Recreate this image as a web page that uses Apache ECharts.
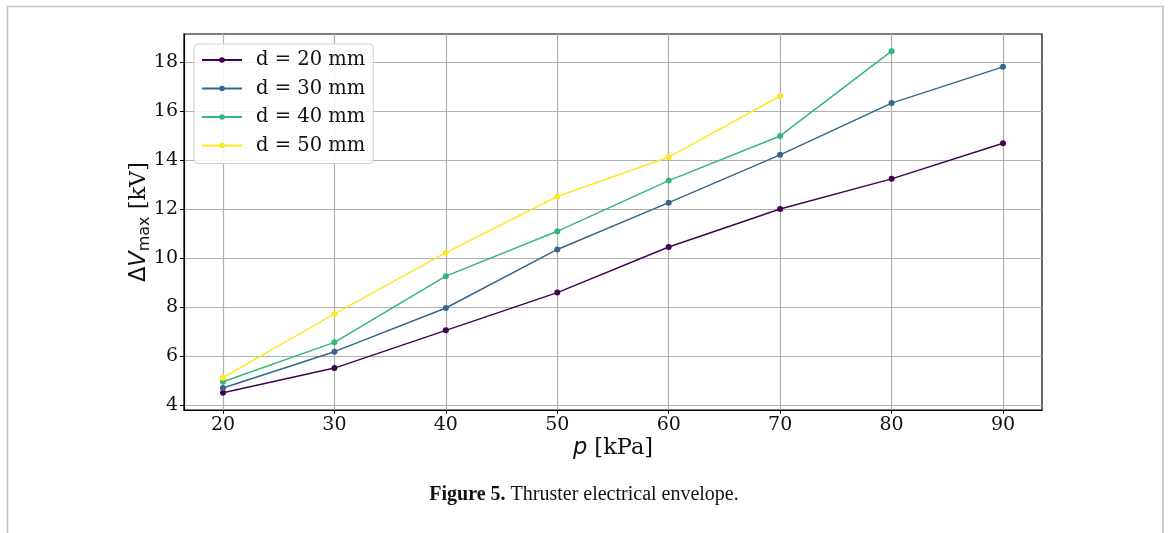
<!DOCTYPE html>
<html>
<head>
<meta charset="utf-8">
<script src="https://cdn.jsdelivr.net/npm/echarts@6/dist/echarts.min.js"></script>
<style>
  html, body { margin: 0; padding: 0; background: #fff; }
  #chart { width: 1168px; height: 533px; }
</style>
</head>
<body>
<div id="chart"></div>
<script>
// pressure p [kPa]
var pressure = [20, 30, 40, 50, 60, 70, 80, 90];
var xTicks = [20, 30, 40, 50, 60, 70, 80, 90];
var yTicks = [4, 6, 8, 10, 12, 14, 16, 18];

// max voltage [kV] per gap distance
var names = ['d = 20 mm', 'd = 30 mm', 'd = 40 mm', 'd = 50 mm'];
var d20 = [4.51, 5.52, 7.06, 8.60, 10.46, 12.01, 13.24, 14.69];
var d30 = [4.71, 6.19, 7.97, 10.36, 12.27, 14.22, 16.33, 17.81];
var d40 = [4.96, 6.57, 9.27, 11.10, 13.17, 14.99, 18.45];
var d50 = [5.13, 7.73, 10.23, 12.52, 14.13, 16.62];
var colors = ['#440154', '#31688e', '#35b779', '#fde725'];

function pairs(vals) {
    var d = [];
    for (var i = 0; i < vals.length; i++) {
        d.push([pressure[i], vals[i]]);
    }
    return d;
}

var myChart = echarts.init(document.getElementById('chart'));

var serif = 'DejaVu Serif';
var allSeries = [d20, d30, d40, d50].map(function (vals, k) {
    return {
        name: names[k],
        type: 'line',
        data: pairs(vals),
        symbol: 'circle',
        symbolSize: 6,
        showSymbol: true,
        lineStyle: {width: 1.5, color: colors[k]},
        itemStyle: {color: colors[k]},
        z: 3 + k
    };
});

var option = {
    animation: false,
    backgroundColor: '#fff',
    color: colors,
    graphic: [
        {   // page frame
            type: 'rect',
            shape: {x: 7.5, y: 6.5, width: 1155.5, height: 540},
            style: {fill: null, stroke: '#c4c4c4', lineWidth: 1.6},
            silent: true
        },
        {
            type: 'text',
            left: 'center',
            top: 485,
            style: {
                text: '{b|Figure 5.} Thruster electrical envelope.',
                fontFamily: 'Liberation Serif',
                fontSize: 20,
                fill: '#111',
                rich: {
                    b: {fontFamily: 'Liberation Serif', fontSize: 20, fontWeight: 'bold', fill: '#111'}
                }
            }
        }
    ],
    grid: {
        left: 184,
        top: 34,
        width: 858,
        height: 376,
        show: true,
        borderColor: '#000',
        borderWidth: 1.2,
        backgroundColor: 'transparent'
    },
    legend: {
        orient: 'vertical',
        left: 194,
        top: 44,
        data: names,
        itemWidth: 40,
        itemHeight: 7,
        itemGap: 8.5,
        padding: [6, 8, 8, 7],
        backgroundColor: 'rgba(255,255,255,0.85)',
        borderColor: '#d0d0d0',
        borderWidth: 1,
        borderRadius: 4,
        textStyle: {fontFamily: serif, fontSize: 19.5, color: '#111', lineHeight: 20, padding: [0, 0, 0, 9]}
    },
    xAxis: {
        type: 'value',
        min: 16.5,
        max: 93.5,
        name: '{i|p} [kPa]',
        nameLocation: 'middle',
        nameGap: 27,
        nameMoveOverlap: false,
        nameTextStyle: {
            fontFamily: serif,
            fontSize: 22.5,
            color: '#111',
            rich: {
                i: {fontFamily: 'DejaVu Sans', fontStyle: 'italic', fontSize: 22.5, color: '#111'}
            }
        },
        axisLine: {show: true, lineStyle: {color: '#000', width: 1.2}},
        axisTick: {show: true, inside: false, length: 4, customValues: xTicks, lineStyle: {color: '#000', width: 1}},
        axisLabel: {customValues: xTicks, fontFamily: serif, fontSize: 19, color: '#111', margin: 6},
        splitLine: {show: true, customValues: xTicks, lineStyle: {color: '#b0b0b0', width: 1.2}}
    },
    yAxis: {
        type: 'value',
        min: 3.81,
        max: 19.15,
        name: '{d|Δ}{v|V}{s|max}{u| [kV]}',
        nameLocation: 'middle',
        nameRotate: 90,
        nameGap: 31,
        nameMoveOverlap: false,
        nameTextStyle: {
            fontFamily: serif,
            fontSize: 22.5,
            color: '#111',
            rich: {
                d: {fontFamily: 'DejaVu Sans', fontStyle: 'normal', fontSize: 22.5, lineHeight: 28, color: '#111'},
                v: {fontFamily: 'DejaVu Sans', fontStyle: 'italic', fontSize: 22.5, lineHeight: 28, color: '#111'},
                s: {fontFamily: 'DejaVu Sans', fontStyle: 'normal', fontSize: 16, lineHeight: 15, verticalAlign: 'bottom', color: '#111'},
                u: {fontFamily: serif, fontStyle: 'normal', fontSize: 22.5, lineHeight: 28, color: '#111'}
            }
        },
        axisLine: {show: true, lineStyle: {color: '#000', width: 1.2}},
        axisTick: {show: true, inside: false, length: 4, customValues: yTicks, lineStyle: {color: '#000', width: 1}},
        axisLabel: {customValues: yTicks, fontFamily: serif, fontSize: 19, color: '#111', margin: 6},
        splitLine: {show: true, customValues: yTicks, lineStyle: {color: '#b0b0b0', width: 1.2}}
    },
    series: allSeries
};

myChart.setOption(option);
</script>
</body>
</html>
